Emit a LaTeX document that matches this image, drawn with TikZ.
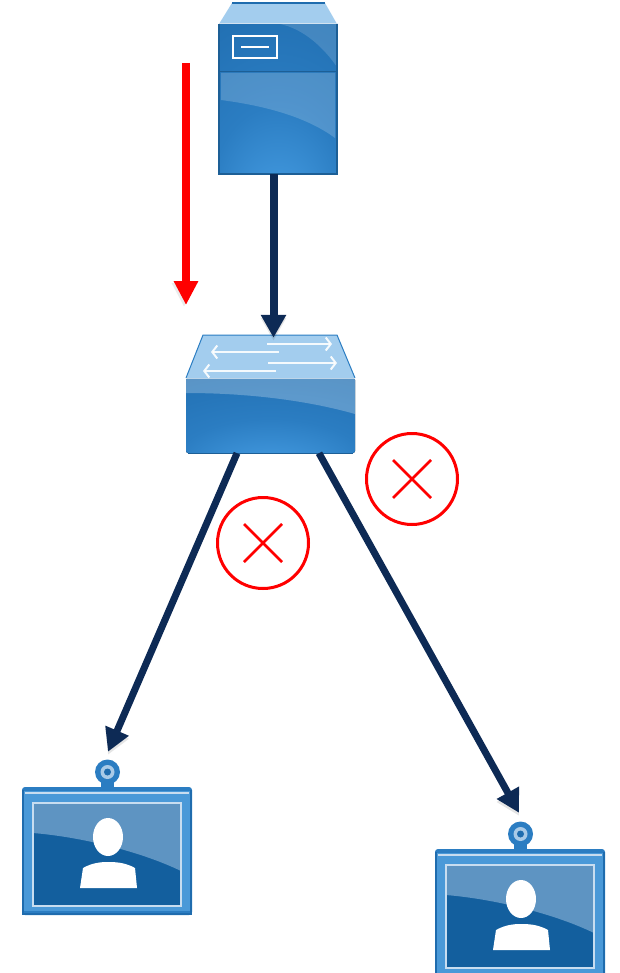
\documentclass[tikz,border=0pt]{standalone}
\usepackage{xcolor}
\usetikzlibrary{arrows.meta, positioning, calc}

\definecolor{linkblue}{HTML}{0D2A55}
\definecolor{iconglow}{HTML}{4AA2E8}
\definecolor{iconmid}{HTML}{2B7DC2}
\definecolor{iconedge}{HTML}{1F6CAE}
\definecolor{icontop}{HTML}{A3CDEE}
\definecolor{iconline}{HTML}{1D5F96}
\definecolor{screendark}{HTML}{135F9E}
\definecolor{screengloss}{HTML}{5E94C2}
\definecolor{framelight}{HTML}{C8DDF0}

\pgfdeclareradialshading{iconshade}{\pgfpoint{0bp}{-42bp}}{
    color(0bp)=(iconglow);
    color(28bp)=(iconmid);
    color(60bp)=(iconedge);
    color(100bp)=(iconedge)}

\tikzset{
    server icon/.pic={
        \fill [icontop] (13,0) -- (106,0) -- (118,21) -- (0,21) -- cycle;
        \draw [iconedge, line width=1.5pt] (13,0) -- (106,0);
        \fill [shading=iconshade] (0,21) rectangle (118,171);
        \fill [white, opacity=.15] (61,21) .. controls (85,26) and (105,45) .. (118,64) -- (118,21) -- cycle;
        \fill [white, opacity=.18] (2,70) -- (116,70) -- (116,135) .. controls (85,112) and (40,102) .. (2,97) -- cycle;
        \draw [iconline, line width=1.5pt] (0,68.5) -- (118,68.5);
        \draw [white, opacity=.8, line width=1pt] (0,21) -- (118,21);
        \draw [white, line width=2pt] (14,33) rectangle (58,55);
        \draw [white, line width=2pt] (22,44) -- (50,44);
        \draw [iconline, line width=1.2pt] (0,21) -- (0,171) -- (118,171) -- (118,21);
    },
    switch icon/.pic={
        \fill [icontop] (17,0) -- (151,0) -- (169,43) -- (0,43) -- cycle;
        \draw [iconmid, line width=1pt] (0,43) -- (17,0) -- (151,0) -- (169,43);
        \fill [shading=iconshade, rounded corners=2pt] (0,43) rectangle (169,118);
        \fill [white, opacity=.25] (0,58) .. controls (60,58) and (120,65) .. (169,79) -- (169,43) -- (0,43) -- cycle;
        \draw [white, opacity=.6, line width=1pt] (0,43) -- (169,43);
        \draw [iconline, line width=1pt] (2,118) -- (167,118);
        \draw [swarrow] (81,9) -- (146,9);
        \draw [swarrow] (93,17) -- (25,17);
        \draw [swarrow] (82,28) -- (151,28);
        \draw [swarrow] (90,36) -- (17,36);
    },
    phone icon/.pic={
        \fill [iconmid] (79,-6) rectangle (92,1);
        \fill [iconmid] (85.5,-15) circle (12.5);
        \fill [framelight!80!iconmid] (85.5,-15) circle (7);
        \fill [iconedge] (85.5,-15) circle (3.5);
        \fill [iconmid, rounded corners=3pt] (0,0) rectangle (170,128);
        \fill [iconglow!85!white, opacity=.55] (2,4) rectangle (168,124);
        \draw [framelight, line width=1.5pt] (3,6) -- (167,6);
        \draw [iconedge, line width=2.5pt] (1,3) -- (1,127) -- (169,127) -- (169,3);
        \fill [screendark] (11,16) rectangle (159,119);
        \fill [screengloss] (11,46) .. controls (60,50) and (120,65) .. (159,84) -- (159,16) -- (11,16) -- cycle;
        \draw [framelight, line width=2pt] (11,16) rectangle (159,119);
        \fill [white] (86,50) ellipse (15 and 19);
        \fill [white] (58,101) -- (61,81) .. controls (70,76) and (78,75) .. (86,75) .. controls (96,75) and (104,76) .. (113,81) -- (115,101) -- cycle;
    },
    swarrow/.style={draw=white, opacity=.9, line width=2pt, -{Straight Barb[length=5pt,width=13pt]}},
    iconbox/.style={rectangle, inner sep=0pt},
    link/.style={draw=linkblue, line width=7pt, -{Triangle[length=23pt,width=24pt]},
        preaction={draw=black, opacity=.1, transform canvas={shift={(0pt,-3pt)}}}},
    blockmark/.style={circle, draw=red, line width=3pt, inner sep=0pt, minimum size=91pt},
    crossline/.style={draw=red, line width=2.5pt}
}

\begin{document}
\begin{tikzpicture}[x=1pt, y=-1pt]

    \useasboundingbox (0,0) rectangle (620,973);
    \clip (0,0) rectangle (620,973);

    \pic at (219,3) {server icon};
    \pic at (186,335) {switch icon};
    \pic at (22,787) {phone icon};
    \pic at (435,849) {phone icon};

    \node [iconbox, minimum width=118pt, minimum height=171pt] (server) at (278,88.5) {};
    \node [iconbox, minimum width=169pt, minimum height=118pt] (switch) at (270.5,394) {};
    \node [iconbox, minimum width=170pt, minimum height=155pt] (phoneA) at (107,837.5) {};
    \node [iconbox, minimum width=170pt, minimum height=155pt] (phoneB) at (520,899.5) {};

    \coordinate (redstart) at (186,63);
    \coordinate (redend) at (186,305);
    \draw [draw=red, line width=8pt, -{Triangle[length=24pt,width=23pt]},
        preaction={draw=black, opacity=.08, transform canvas={shift={(-2pt,-2pt)}}}] (redstart) -- (redend);

    \draw [link, line width=8pt] ([xshift=-4.5pt]server.south) -- ([xshift=3pt,yshift=-3pt]switch.north);
    \draw [link] ([xshift=-33.5pt]switch.south) -- ([xshift=1pt,yshift=8pt]phoneA.north);
    \draw [link] ([xshift=48.5pt]switch.south) -- ([xshift=-1pt,yshift=9pt]phoneB.north);

    \node [blockmark] (blockB) at (412,479) {};
    \node [blockmark] (blockA) at (263,543) {};
    \draw [crossline] ($(blockB)+(-19,-19)$) -- ($(blockB)+(19,19)$);
    \draw [crossline] ($(blockB)+(-19,19)$) -- ($(blockB)+(19,-19)$);
    \draw [crossline] ($(blockA)+(-19,-19)$) -- ($(blockA)+(19,19)$);
    \draw [crossline] ($(blockA)+(-19,19)$) -- ($(blockA)+(19,-19)$);

\end{tikzpicture}
\end{document}
